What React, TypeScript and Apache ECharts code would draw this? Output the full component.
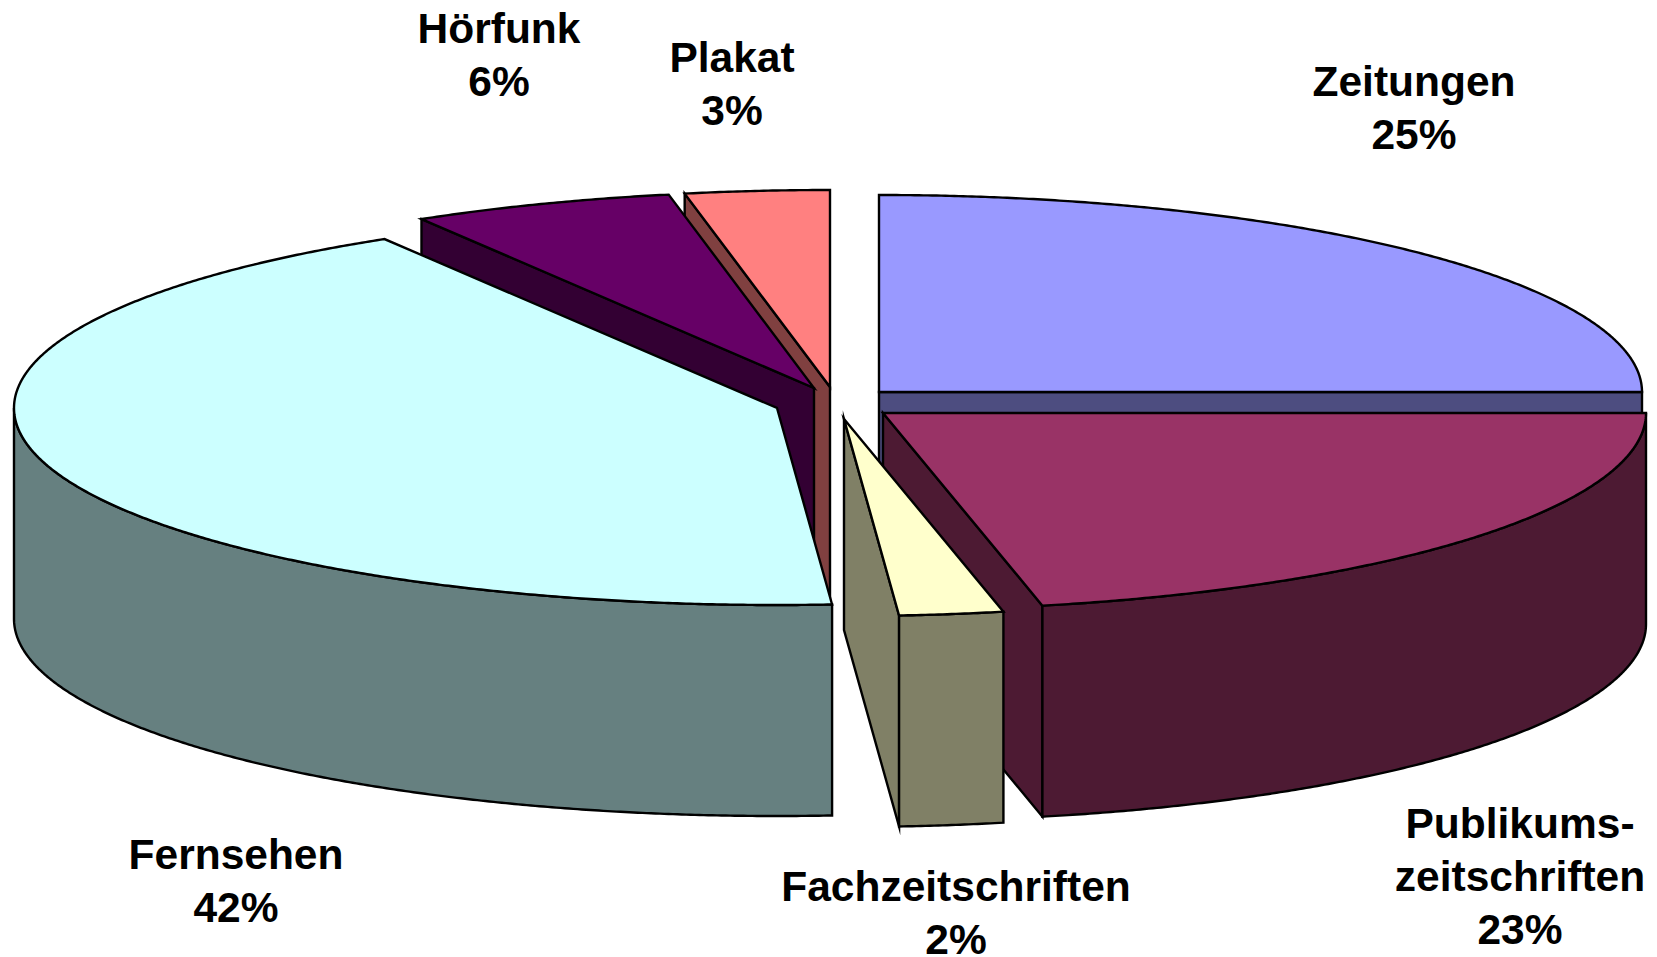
import React, { useEffect, useRef } from "react";
import * as echarts from "echarts";

// Media categories, clockwise from 12 o'clock
const categories = ["Zeitungen", "Publikums-\nzeitschriften", "Fachzeitschriften", "Fernsehen", "Hörfunk", "Plakat"];
// Shares (the labels show them rounded)
const shares = [25.0, 21.65, 2.2, 42.55, 5.55, 3.05];
const percentLabels = ["25%", "23%", "2%", "42%", "6%", "3%"];

const topColors = ["#9999FF", "#993366", "#FFFFCC", "#CCFFFF", "#660066", "#FF8080"];
const sideColors = ["#4D4D80", "#4D1A33", "#808066", "#668080", "#330033", "#804040"];

// Layout
const RX = 763;
const RY = 197;
const DEPTH = 211;
const sliceCentres = [[879, 392], [883, 413], [844, 419], [777, 408], [814, 388], [830, 387]];
const labelCentres = [[1414, 108], [1520, 876], [956, 913], [236, 881], [499, 55], [732, 84]];
const drawOrder = [5, 4, 3, 0, 1, 2];
const LINE_HEIGHT = 53;
const FONT_SIZE = 42.5;

const total = shares.reduce((a, b) => a + b, 0);
const startAngles = shares.map((_, i) => (shares.slice(0, i).reduce((a, b) => a + b, 0) / total) * 360);
const endAngles = shares.map((s, i) => startAngles[i] + (s / total) * 360);

const rim = (c: number[], deg: number, dy = 0) => {
  const r = (deg * Math.PI) / 180;
  return [c[0] + RX * Math.sin(r), c[1] - RY * Math.cos(r) + dy];
};
const arcPoints = (c: number[], a: number, b: number, dy = 0) => {
  const pts: number[][] = [];
  const n = Math.max(2, Math.ceil((b - a) * 3));
  for (let k = 0; k <= n; k++) pts.push(rim(c, a + ((b - a) * k) / n, dy));
  return pts;
};

const outline = { stroke: "#000000", lineWidth: 2.4, lineJoin: "miter" as const, miterLimit: 12 };

const renderSlice = (_params: any, api: any) => {
  const i = api.value(0) as number;
  const c = sliceCentres[i];
  const a = startAngles[i];
  const b = endAngles[i];
  const children: any[] = [];
  const poly = (points: number[][], fill: string) =>
    children.push({ type: "polygon", shape: { points }, style: { fill, ...outline } });

  const cutFace = (deg: number) => {
    const p = rim(c, deg);
    poly([c, p, [p[0], p[1] + DEPTH], [c[0], c[1] + DEPTH]], sideColors[i]);
  };
  // Cut faces that look towards the viewer
  if (a > 270 && a < 360) cutFace(a);
  if (b >= 90 && b <= 270) cutFace(b);
  // Outer wall: only the front half of the rim
  const wa = Math.max(a, 90);
  const wb = Math.min(b, 270);
  if (wb > wa) {
    poly([...arcPoints(c, wa, wb), ...arcPoints(c, wa, wb, DEPTH).reverse()], sideColors[i]);
  }
  // Top face
  poly([c, ...arcPoints(c, a, b)], topColors[i]);
  return { type: "group", children };
};

const renderLabels = (_params: any, api: any) => {
  const i = api.value(0) as number;
  return {
    type: "text",
    x: labelCentres[i][0],
    y: labelCentres[i][1],
    style: {
      text: `${categories[i]}\n${percentLabels[i]}`,
      fill: "#000000",
      font: `bold ${FONT_SIZE}px "Liberation Sans", Arial, sans-serif`,
      lineHeight: LINE_HEIGHT,
      align: "center",
      verticalAlign: "middle",
    },
  };
};

export default function App() {
  const ref = useRef<HTMLDivElement>(null);
  useEffect(() => {
    const chart = echarts.init(ref.current as HTMLDivElement, undefined, { renderer: "svg" });
    chart.setOption({
      animation: false,
      backgroundColor: "#ffffff",
      series: [
        {
          type: "custom",
          coordinateSystem: "none",
          silent: true,
          renderItem: renderSlice,
          data: drawOrder.map((i) => [i, shares[i]]),
          encode: { value: [1] },
          z: 1,
        },
        {
          type: "custom",
          coordinateSystem: "none",
          silent: true,
          renderItem: renderLabels,
          data: categories.map((_, i) => [i, shares[i]]),
          z: 2,
        },
      ],
    });
    return () => chart.dispose();
  }, []);
  return <div ref={ref} style={{ position: "fixed", left: 0, top: 0, width: 1657, height: 957 }} />;
}
